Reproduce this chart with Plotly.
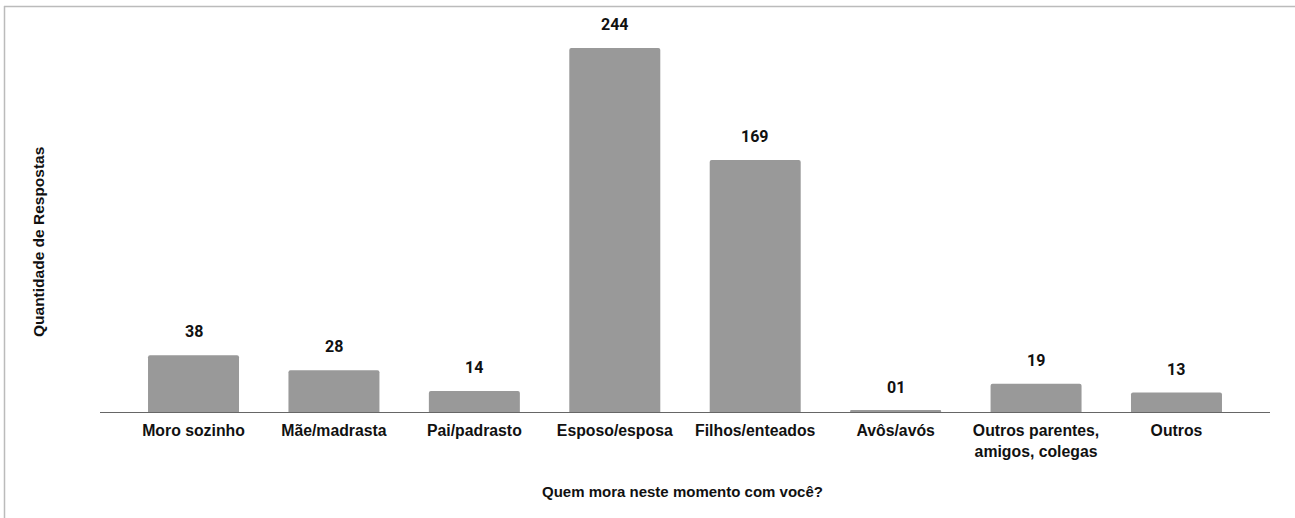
import plotly.graph_objects as go

categories = ["Moro sozinho", "Mãe/madrasta", "Pai/padrasto", "Esposo/esposa",
              "Filhos/enteados", "Avôs/avós", "Outros parentes,<br>amigos, colegas", "Outros"]
values = [38, 28, 14, 244, 169, 1, 19, 13]
value_labels = ["38", "28", "14", "244", "169", "01", "19", "13"]

W, H = 1295, 518
L, R, T, B = 100, 25, 24, 106
pw, ph = W - L - R, H - T - B

fig = go.Figure()
fig.add_trace(go.Bar(
    x=list(range(len(categories))), y=values,
    marker=dict(color="#999999", line=dict(width=0), cornerradius=2),
    width=0.648, hoverinfo="skip",
))

for i, (v, t) in enumerate(zip(values, value_labels)):
    fig.add_annotation(x=i, y=v, text="<b>%s</b>" % t, showarrow=False,
                       yanchor="bottom", yshift=12,
                       font=dict(family="Roboto, Arial", size=16, color="#111111"))

def px_to_paper_x(px):
    return (px - L) / pw

def px_to_paper_y(py):
    return (H - B - py) / ph

fig.add_annotation(xref="paper", yref="paper", x=px_to_paper_x(682), y=px_to_paper_y(491),
                   text="<b>Quem mora neste momento com você?</b>", showarrow=False,
                   xanchor="center", yanchor="middle",
                   font=dict(family="Liberation Sans, Arial", size=15, color="#111111"))
fig.add_annotation(xref="paper", yref="paper", x=px_to_paper_x(38), y=px_to_paper_y(242),
                   text="<b>Quantidade de Respostas</b>", showarrow=False, textangle=-90,
                   xanchor="center", yanchor="middle",
                   font=dict(family="Liberation Sans, Arial", size=15.5, color="#111111"))

# frame lines (top and left)
fig.add_shape(type="line", xref="paper", yref="paper",
              x0=px_to_paper_x(4), x1=px_to_paper_x(W),
              y0=px_to_paper_y(6.5), y1=px_to_paper_y(6.5),
              line=dict(color="#bbbbbb", width=1.5))
fig.add_shape(type="line", xref="paper", yref="paper",
              x0=px_to_paper_x(4.5), x1=px_to_paper_x(4.5),
              y0=px_to_paper_y(6), y1=px_to_paper_y(H),
              line=dict(color="#bbbbbb", width=1.5))

fig.update_layout(
    width=W, height=H,
    margin=dict(l=L, r=R, t=T, b=B),
    paper_bgcolor="white", plot_bgcolor="white",
    showlegend=False,
    xaxis=dict(range=[-0.666, 7.666], tickmode="array",
               tickvals=list(range(len(categories))),
               ticktext=["<b>%s</b>" % c for c in categories],
               showline=True, linecolor="#666666", linewidth=1,
               ticks="", showgrid=False, zeroline=False, ticklabelstandoff=4,
               tickfont=dict(family="Liberation Sans, Arial", size=15.8, color="#111111")),
    yaxis=dict(range=[0, ph / (364 / 244)], showticklabels=False, showgrid=False,
               zeroline=False, showline=False, ticks=""),
)

fig.write_html("out.html", config={"displayModeBar": False},
               post_script="document.body.style.margin='0';document.body.style.overflow='hidden';")
